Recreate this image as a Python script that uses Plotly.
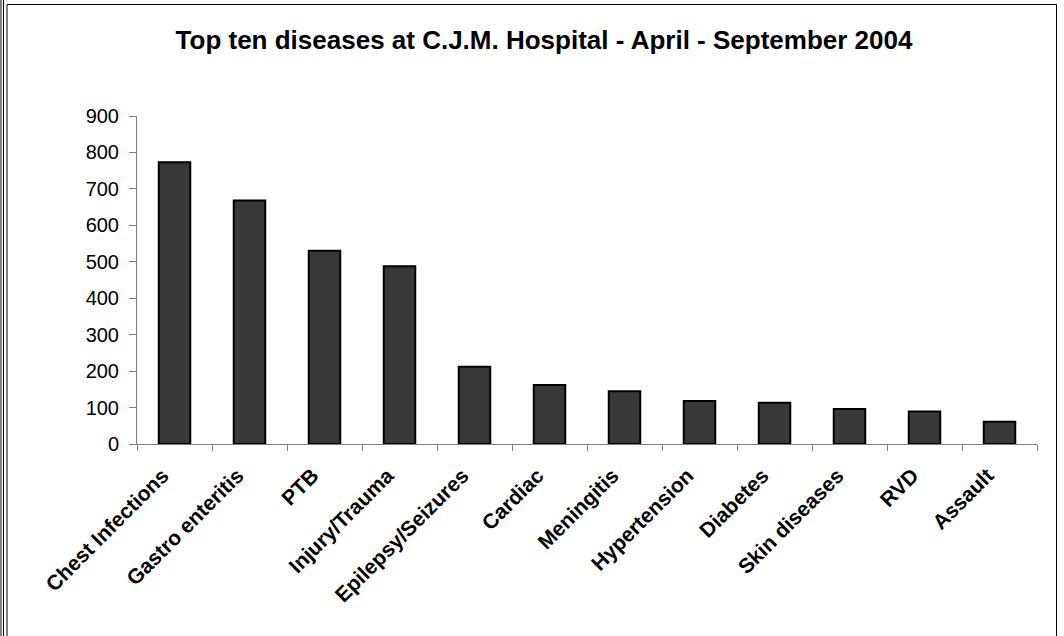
import plotly.graph_objects as go

#%% data
diseases = ['Chest Infections', 'Gastro enteritis', 'PTB', 'Injury/Trauma', 'Epilepsy/Seizures',
            'Cardiac', 'Meningitis', 'Hypertension', 'Diabetes', 'Skin diseases', 'RVD', 'Assault']
cases = [773, 668, 530, 488, 212, 162, 145, 118, 113, 96, 89, 61]
y_ticks = [0, 100, 200, 300, 400, 500, 600, 700, 800, 900]

#%% layout constants (pixels)
W, H = 1064, 636
L, R, T, B = 137, 27, 116, 192
PW, PH = W - L - R, H - T - B


def px_x(x):
    return (x - L) / PW


def px_y(y):
    return (H - B - y) / PH


fig = go.Figure()
fig.add_trace(
    go.Bar(
        x=diseases,
        y=cases,
        width=0.42,
        marker=dict(color='#383838', line=dict(color='black', width=2)),
        showlegend=False,
    )
)

# triple line on the left, single line top/right
frame = []
for x in [1, 3.5]:
    frame.append(dict(x0=px_x(x), x1=px_x(x), y0=px_y(-5), y1=px_y(H + 5)))
frame.append(dict(x0=px_x(7), x1=px_x(7), y0=px_y(4.5), y1=px_y(H + 5)))
frame.append(dict(x0=px_x(7), x1=px_x(1056.5), y0=px_y(4.5), y1=px_y(4.5)))
frame.append(dict(x0=px_x(1056.5), x1=px_x(1056.5), y0=px_y(4.5), y1=px_y(H + 5)))
for f in frame:
    fig.add_shape(type='line', xref='paper', yref='paper', line=dict(color='black', width=1), **f)

fig.update_layout(
    width=W,
    height=H,
    margin=dict(l=L, r=R, t=T, b=B),
    paper_bgcolor='white',
    plot_bgcolor='white',
    font=dict(family='Liberation Sans, Arial, sans-serif', color='black'),
    title=dict(
        text='<b>Top ten diseases at C.J.M. Hospital - April - September 2004</b>',
        font=dict(size=26, color='black'),
        x=544 / W, xref='container', xanchor='center',
        y=1 - 40 / H, yref='container', yanchor='middle',
    ),
)
fig.update_xaxes(
    tickangle=-45,
    tickfont=dict(size=21),
    tickprefix='<b>', ticksuffix='</b>',
    ticklabelstandoff=10, ticklabelshift=-12,
    showline=True, linecolor='#808080', linewidth=1,
    ticks='outside', tickson='boundaries', ticklen=6, tickcolor='#808080',
    showgrid=False,
)
fig.update_yaxes(
    range=[0, 900],
    tickvals=y_ticks,
    tickfont=dict(size=20),
    ticklabelstandoff=6,
    showline=True, linecolor='#808080', linewidth=1,
    ticks='outside', ticklen=7, tickcolor='#808080',
    showgrid=False, zeroline=False,
)

fig.write_html("out.html", config={'displayModeBar': False},
               post_script="document.body.style.margin='0';")
